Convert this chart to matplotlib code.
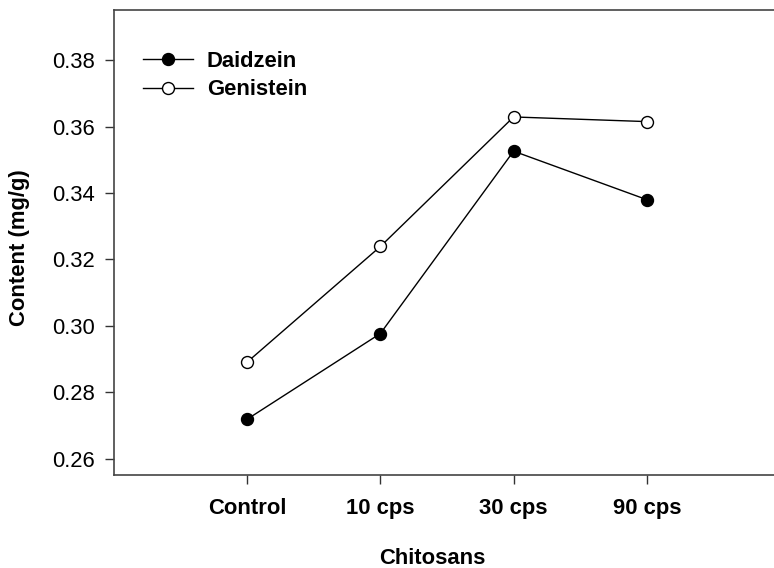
import matplotlib
matplotlib.use("Agg")
import matplotlib.pyplot as plt

categories = ["Control", "10 cps", "30 cps", "90 cps"]
daidzein = [0.2719, 0.2977, 0.3526, 0.3380]
genistein = [0.2891, 0.3239, 0.3629, 0.3615]
yticks = [0.26, 0.28, 0.30, 0.32, 0.34, 0.36, 0.38]

plt.rcParams["font.family"] = ["Liberation Sans", "DejaVu Sans"]
FS = 15.8

W, H = 774, 568
fig = plt.figure(figsize=(W / 100, H / 100), dpi=100)
ax = fig.add_axes([114 / W, (H - 475) / H, (W - 114) / W, (475 - 10) / H])

x = list(range(len(categories)))
ax.plot(x, daidzein, color="black", lw=1.0, marker="o", ms=8.6,
        mfc="black", mec="black", mew=1.0, label="Daidzein", zorder=3)
ax.plot(x, genistein, color="black", lw=1.0, marker="o", ms=8.6,
        mfc="white", mec="black", mew=1.0, label="Genistein", zorder=3)

ax.set_xlim(-1, 3.955)
ax.set_ylim(0.2551, 0.3951)
ax.set_xticks(x)
ax.set_xticklabels(categories, fontsize=FS, fontweight="bold")
ax.set_yticks(yticks)
ax.set_yticklabels([f"{v:.2f}" for v in yticks], fontsize=FS)

ax.tick_params(axis="both", direction="out", length=6.5, width=1.0,
               color="#333333")
ax.tick_params(axis="y", pad=7)
ax.tick_params(axis="x", pad=10)

for side in ("left", "bottom", "top"):
    ax.spines[side].set_linewidth(1.2)
    ax.spines[side].set_color("#444444")
ax.spines["right"].set_visible(False)

ax.set_xlabel("Chitosans", fontsize=FS, fontweight="bold")
ax.xaxis.set_label_coords((432.5 - 114) / (W - 114), -(548 - 475) / (475 - 10))
ax.set_ylabel("Content (mg/g)", fontsize=FS, fontweight="bold")
ax.yaxis.set_label_coords(-(114 - 30) / (W - 114), 0.49)

leg = ax.legend(loc="upper left", frameon=False,
                prop={"size": FS, "weight": "bold"}, handlelength=2.3,
                handletextpad=0.6, labelspacing=0.34, borderaxespad=0.0,
                borderpad=0.0)
leg.set_bbox_to_anchor(((143 - 114) / (W - 114), (475 - 51) / (475 - 10)),
                       transform=ax.transAxes)

fig.savefig("out.png", dpi=100)
